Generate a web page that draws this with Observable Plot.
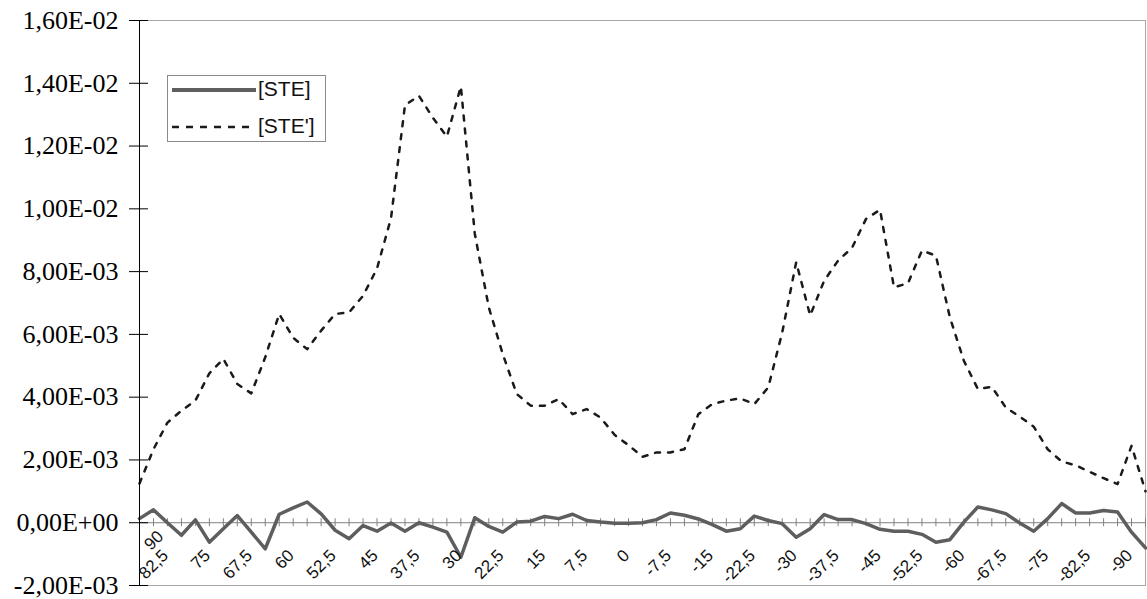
<!DOCTYPE html>
<html><head><meta charset="utf-8">
<script src="https://cdn.jsdelivr.net/npm/d3@7"></script>
<script src="https://cdn.jsdelivr.net/npm/@observablehq/plot@0.6"></script>
<style>
html,body{margin:0;padding:0;background:#fff;overflow:hidden;}
#wrap{position:relative;width:1147px;height:599px;}
#legend{position:absolute;left:167px;top:75px;width:159px;height:67px;border:1px solid #8a8a8a;background:#fff;box-sizing:border-box;font-family:"Liberation Sans",Arial,sans-serif;font-size:21px;color:#111;}
#legend svg{position:absolute;left:0;top:0;}
.lab{position:absolute;left:90px;line-height:24px;}
</style></head>
<body>
<div id="wrap"><div id="chart"></div>
<div id="legend">
<svg width="157" height="65"><line x1="4" x2="88" y1="14" y2="14" stroke="#5e5e5e" stroke-width="4"/><line x1="4" x2="88" y1="51" y2="51" stroke="#1a1a1a" stroke-width="2.5" stroke-dasharray="7,7"/></svg>
<div class="lab" style="top:1px">[STE]</div>
<div class="lab" style="top:38px">[STE']</div>
</div></div>
<script>
const lat = [90,87.5,85,82.5,80,77.5,75,72.5,70,67.5,65,62.5,60,57.5,55,52.5,50,47.5,45,42.5,40,37.5,35,32.5,30,27.5,25,22.5,20,17.5,15,12.5,10,7.5,5,2.5,0,-2.5,-5,-7.5,-10,-12.5,-15,-17.5,-20,-22.5,-25,-27.5,-30,-32.5,-35,-37.5,-40,-42.5,-45,-47.5,-50,-52.5,-55,-57.5,-60,-62.5,-65,-67.5,-70,-72.5,-75,-77.5,-80,-82.5,-85,-87.5,-90];
const ste = [1.3e-4,4.1e-4,0.0,-4.0e-4,0.9e-4,-6.2e-4,-1.9e-4,2.3e-4,-3.0e-4,-8.3e-4,2.7e-4,4.7e-4,6.6e-4,2.8e-4,-2.4e-4,-5.1e-4,-0.9e-4,-2.7e-4,-0.1e-4,-2.7e-4,0.0,-1.4e-4,-3.0e-4,-1.1e-3,1.6e-4,-1.2e-4,-3.0e-4,0.2e-4,0.5e-4,2.0e-4,1.3e-4,2.7e-4,0.7e-4,0.2e-4,-0.2e-4,-0.2e-4,0.0,1.0e-4,3.1e-4,2.4e-4,1.2e-4,-0.6e-4,-2.7e-4,-1.9e-4,2.1e-4,0.7e-4,-0.3e-4,-4.6e-4,-1.9e-4,2.6e-4,1.0e-4,1.0e-4,-0.3e-4,-2.1e-4,-2.7e-4,-2.7e-4,-3.7e-4,-6.2e-4,-5.4e-4,0.2e-4,5.0e-4,4.1e-4,2.9e-4,-0.1e-4,-2.7e-4,1.3e-4,6.1e-4,3.1e-4,3.1e-4,3.9e-4,3.4e-4,-3.0e-4,-8.0e-4];
const steP = [1.25e-3,2.34e-3,3.19e-3,3.57e-3,3.89e-3,4.76e-3,5.22e-3,4.42e-3,4.12e-3,5.27e-3,6.65e-3,5.89e-3,5.53e-3,6.12e-3,6.65e-3,6.70e-3,7.23e-3,8.1e-3,9.7e-3,1.33e-2,1.36e-2,1.29e-2,1.23e-2,1.39e-2,9.2e-3,6.86e-3,5.37e-3,4.10e-3,3.73e-3,3.73e-3,3.94e-3,3.46e-3,3.62e-3,3.35e-3,2.80e-3,2.47e-3,2.10e-3,2.24e-3,2.24e-3,2.34e-3,3.46e-3,3.78e-3,3.89e-3,3.96e-3,3.78e-3,4.31e-3,6.06e-3,8.30e-3,6.60e-3,7.71e-3,8.35e-3,8.76e-3,9.68e-3,9.97e-3,7.50e-3,7.63e-3,8.67e-3,8.51e-3,6.54e-3,5.16e-3,4.26e-3,4.33e-3,3.67e-3,3.38e-3,3.06e-3,2.34e-3,1.95e-3,1.83e-3,1.62e-3,1.42e-3,1.23e-3,2.45e-3,1.0e-3];
const xTickLabels = [90,82.5,75,67.5,60,52.5,45,37.5,30,22.5,15,7.5,0,-7.5,-15,-22.5,-30,-37.5,-45,-52.5,-60,-67.5,-75,-82.5,-90];
const yTicks = [-0.002,0,0.002,0.004,0.006,0.008,0.010,0.012,0.014,0.016];

const fmtY = v => {
  const [m, e] = v.toExponential(2).split("e");
  const n = +e;
  return m.replace(".", ",") + "E" + (n < 0 ? "-" : "+") + String(Math.abs(n)).padStart(2, "0");
};
const fmtX = v => String(v).replace(".", ",");

const rows = lat.map((l, i) => ({lat: l, ste: ste[i], steP: steP[i]}));
const labelOpts = {x: d => d, y: 0, text: fmtX, rotate: -45, textAnchor: "end", fontSize: 17, fontFamily: "Liberation Sans", fill: "#111"};

const chart = Plot.plot({
  width: 1147, height: 599,
  marginLeft: 139, marginRight: 2, marginTop: 20, marginBottom: 14,
  x: {domain: [90, -90], axis: null},
  y: {domain: [-0.002, 0.016], label: null},
  style: {background: "white", color: "black"},
  marks: [
    Plot.frame({stroke: "#a8a8a8"}),
    Plot.ruleY([0], {stroke: "#808080", strokeWidth: 1}),
    Plot.ruleX(lat, {x: d => d, y1: 0, y2: 0, insetTop: -4, insetBottom: -4, stroke: "#808080"}),
    Plot.line(rows, {x: "lat", y: "steP", stroke: "#1a1a1a", strokeWidth: 2.5, strokeDasharray: "5,8"}),
    Plot.line(rows, {x: "lat", y: "ste", stroke: "#5e5e5e", strokeWidth: 3.5}),
    Plot.axisY({ticks: yTicks, anchor: "left", tickSize: 10, tickPadding: 11, tickFormat: fmtY, fontSize: 26, fontFamily: "Liberation Serif", label: null}),
    Plot.ruleY(yTicks, {y: d => d, x1: 90, x2: 90, insetRight: -9, stroke: "black"}),
    Plot.ruleX([90], {stroke: "black"}),
    Plot.text(xTickLabels.slice(1), {...labelOpts, dx: -16, dy: 30}),
    Plot.text(xTickLabels.slice(0, 1), {...labelOpts, dx: 21, dy: 11})
  ]
});
document.getElementById("chart").appendChild(chart);
</script>
</body></html>
